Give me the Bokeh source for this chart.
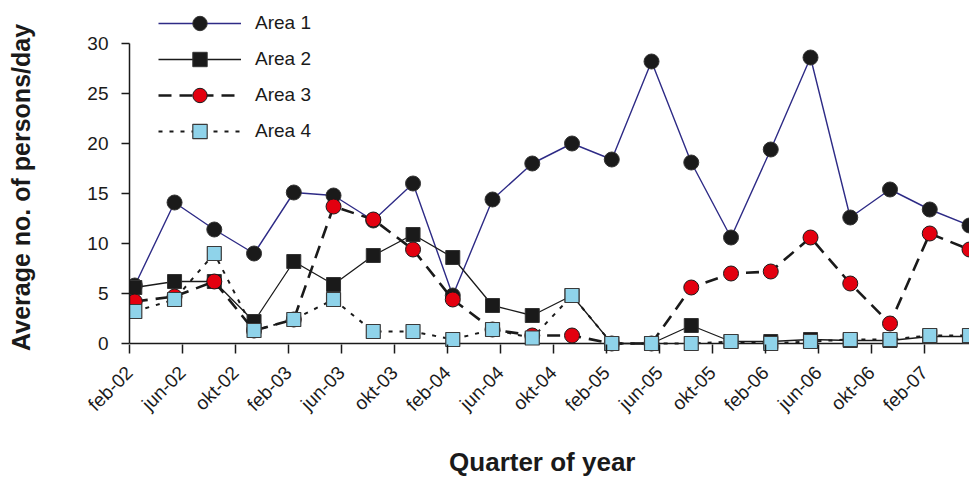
import math
from bokeh.plotting import figure
from bokeh.models import (Range1d, FixedTicker, Span, Legend, LegendItem)
from bokeh.embed import file_html
from bokeh.resources import INLINE

# ---- data ----
tick_labels = ["feb-02", "jun-02", "okt-02", "feb-03", "jun-03", "okt-03",
               "feb-04", "jun-04", "okt-04", "feb-05", "jun-05", "okt-05",
               "feb-06", "jun-06", "okt-06", "feb-07"]
tick_months = [0, 4, 8, 12, 16, 20, 24, 28, 32, 36, 40, 44, 48, 52, 56, 60]

# sampling moment of each quarter, in months after feb-02
sample_months = [0.4, 3.4, 6.4, 9.4, 12.4, 15.4, 18.4, 21.4, 24.4, 27.4, 30.4,
                 33.4, 36.4, 39.4, 42.4, 45.4, 48.4, 51.4, 54.4, 57.4, 60.4, 63.4]

area1 = [5.8, 14.1, 11.4, 9.0, 15.1, 14.8, 12.3, 16.0, 4.8, 14.4, 18.0,
         20.0, 18.4, 28.2, 18.1, 10.6, 19.4, 28.6, 12.6, 15.4, 13.4, 11.8]
area2 = [5.6, 6.2, 6.2, 2.2, 8.2, 5.9, 8.8, 10.9, 8.6, 3.8, 2.8,
         4.8, 0.0, 0.0, 1.8, 0.2, 0.2, 0.4, 0.3, 0.3, 0.7, 0.7]
area3 = [4.2, 4.7, 6.2, 1.3, 2.4, 13.7, 12.4, 9.4, 4.4, 1.4, 0.8,
         0.8, 0.0, 0.0, 5.6, 7.0, 7.2, 10.6, 6.0, 2.0, 11.0, 9.4]
area4 = [3.2, 4.4, 9.0, 1.3, 2.4, 4.4, 1.2, 1.2, 0.4, 1.4, 0.55,
         4.8, 0.0, 0.0, 0.0, 0.2, 0.0, 0.2, 0.4, 0.4, 0.8, 0.8]

y_ticks = [0, 5, 10, 15, 20, 25, 30]

FONT = "Liberation Sans"
INK = "#1a1a1a"
NB = "\u00a0"

p = figure(frame_width=840, frame_height=353,
           x_range=Range1d(0, 63.4), y_range=Range1d(-1, 34.3),
           output_backend="svg", toolbar_location=None,
           min_border_left=129, min_border_right=0,
           min_border_top=0, min_border_bottom=100)
p.outline_line_color = None
p.xgrid.grid_line_color = None
p.ygrid.grid_line_color = None
p.background_fill_color = "white"
p.border_fill_color = "white"

# axes
xa = p.xaxis[0]
xa.ticker = FixedTicker(ticks=tick_months)
xa.major_label_overrides = {m: l for m, l in zip(tick_months, tick_labels)}
xa.axis_line_color = None
xa.major_tick_in = 9
xa.major_tick_out = 0
xa.major_tick_line_width = 1.5
xa.major_tick_line_color = INK
xa.minor_tick_line_color = None
xa.major_label_orientation = math.pi / 4
xa.major_label_standoff = 16
xa.major_label_text_font = FONT
xa.major_label_text_font_size = "19px"
xa.major_label_text_color = INK
xa.axis_label = "Quarter of year" + NB * 2
xa.axis_label_text_font = FONT
xa.axis_label_text_font_size = "26px"
xa.axis_label_text_font_style = "bold"
xa.axis_label_text_color = INK
xa.axis_label_standoff = 22

ya = p.yaxis[0]
ya.ticker = FixedTicker(ticks=y_ticks)
ya.bounds = (0, 30)
ya.axis_line_color = INK
ya.axis_line_width = 1.5
ya.major_tick_in = 0
ya.major_tick_out = 8
ya.major_tick_line_width = 1.5
ya.major_tick_line_color = INK
ya.minor_tick_line_color = None
ya.major_label_standoff = 13
ya.major_label_text_font = FONT
ya.major_label_text_font_size = "19px"
ya.major_label_text_color = INK
ya.axis_label = "Average no. of persons/day" + NB * 3
ya.axis_label_text_font = FONT
ya.axis_label_text_font_size = "25px"
ya.axis_label_text_font_style = "bold"
ya.axis_label_text_color = INK
ya.axis_label_standoff = 49

# x axis line at zero
p.add_layout(Span(location=0, dimension="width", line_color=INK,
                  line_width=1.5, level="underlay"))

# series
l1 = p.line(sample_months, area1, line_color="#2e2b86", line_width=1.4)
s1 = p.scatter(sample_months, area1, marker="circle", size=15,
               fill_color=INK, line_color="#333333", line_width=1)

l2 = p.line(sample_months, area2, line_color=INK, line_width=1.3)
s2 = p.scatter(sample_months, area2, marker="square", size=14,
               fill_color=INK, line_color="#333333", line_width=1)

l3 = p.line(sample_months, area3, line_color=INK, line_width=2.6,
            line_dash="13 8")
s3 = p.scatter(sample_months, area3, marker="circle", size=15,
               fill_color="#e3000f", line_color=INK, line_width=1)

l4 = p.line(sample_months, area4, line_color=INK, line_width=2,
            line_dash="4 7")
s4 = p.scatter(sample_months, area4, marker="square", size=14,
               fill_color="#8fd3ea", line_color="#3a3a3a", line_width=1.2)

legend = Legend(items=[
    LegendItem(label="Area 1", renderers=[l1, s1]),
    LegendItem(label="Area 2", renderers=[l2, s2]),
    LegendItem(label="Area 3", renderers=[l3, s3]),
    LegendItem(label="Area 4", renderers=[l4, s4]),
], location=(29, 204))
legend.glyph_width = 83
legend.glyph_height = 36
legend.label_height = 20
legend.spacing = 0
legend.padding = 0
legend.margin = 0
legend.label_standoff = 14
legend.border_line_color = None
legend.background_fill_alpha = 0
legend.label_text_font = FONT
legend.label_text_font_size = "19px"
legend.label_text_color = INK
p.add_layout(legend)

open("out.html", "w").write(file_html(p, INLINE))
